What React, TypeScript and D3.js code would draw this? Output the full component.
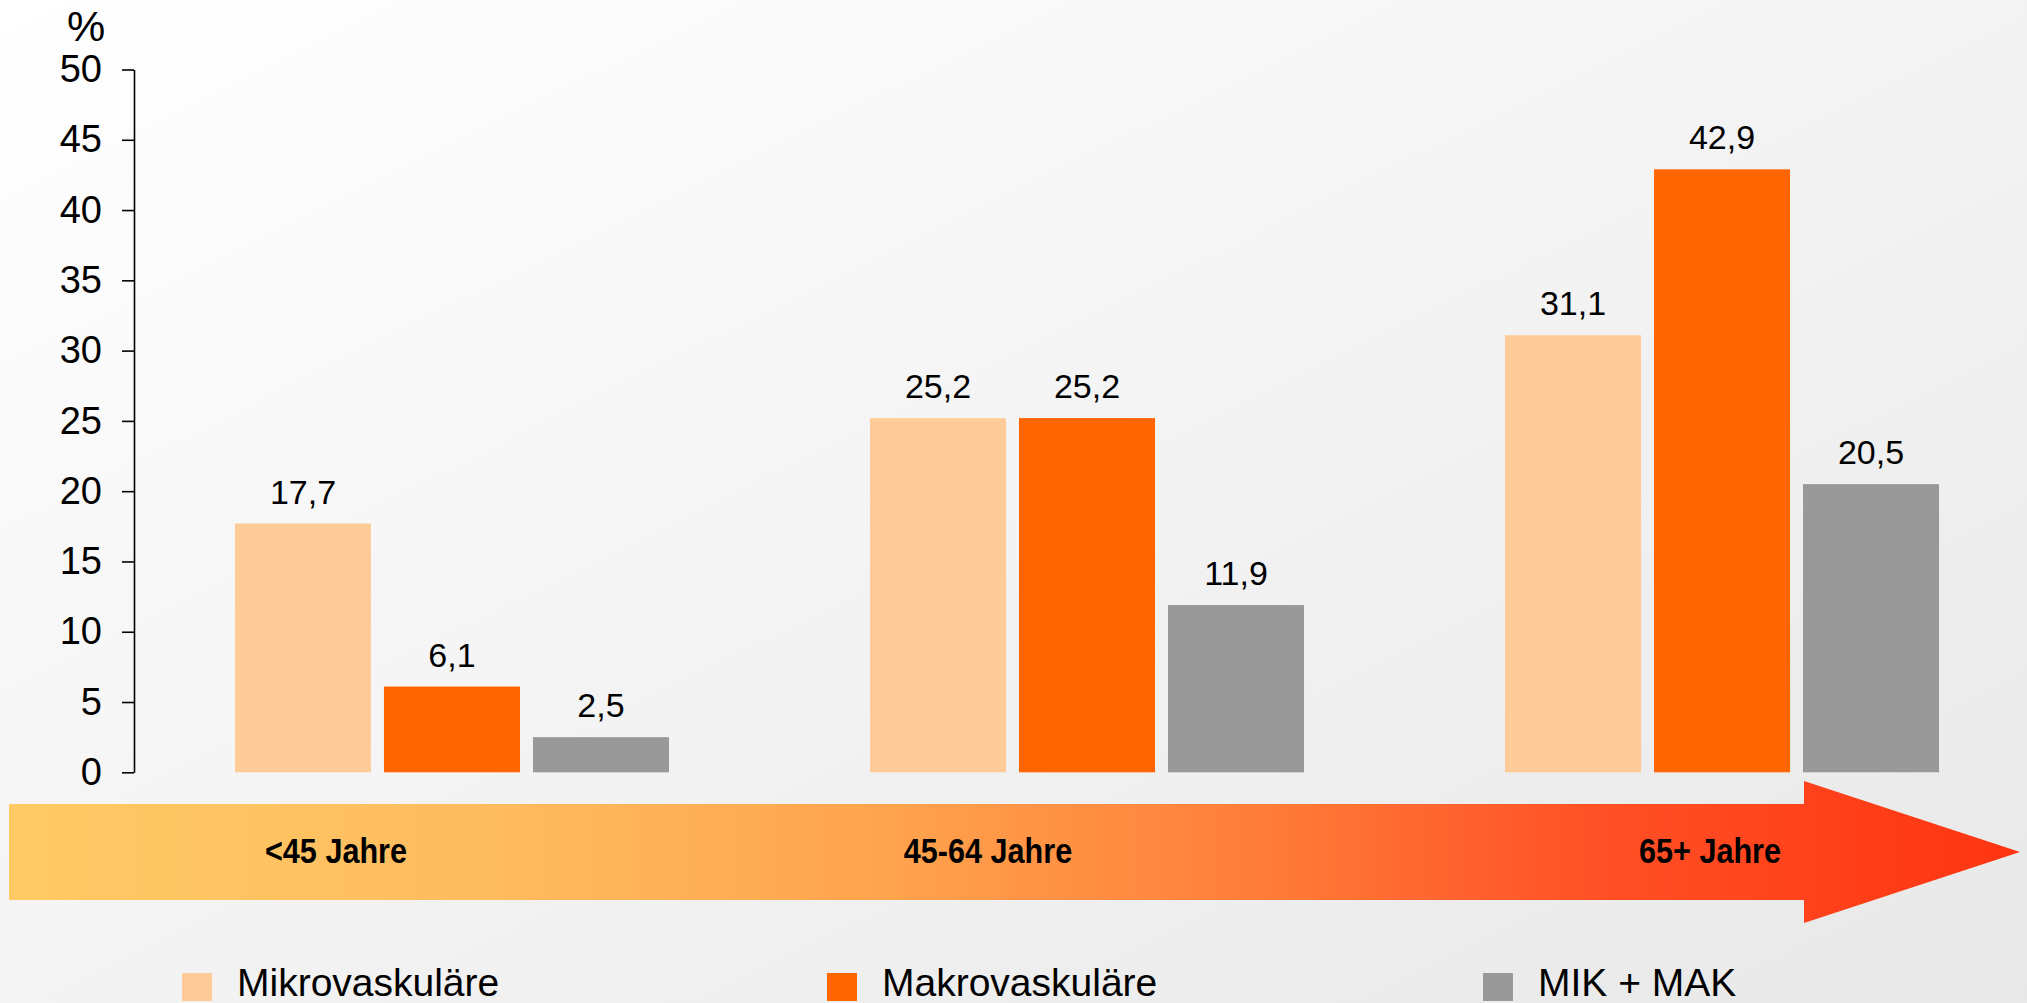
import React, { useEffect, useRef } from "react";
import * as d3 from "d3";

const ageGroups = ["<45 Jahre", "45-64 Jahre", "65+ Jahre"];
const seriesNames = ["Mikrovaskuläre", "Makrovaskuläre", "MIK + MAK"];
const seriesColors = ["#FFCC99", "#FF6600", "#999999"];
const mikroValues = [17.7, 25.2, 31.1];
const makroValues = [6.1, 25.2, 42.9];
const mikMakValues = [2.5, 11.9, 20.5];
const yTicks = [0, 5, 10, 15, 20, 25, 30, 35, 40, 45, 50];

const W = 2027;
const H = 1003;
const FONT = "'Liberation Sans', Arial, Helvetica, sans-serif";

// layout bits (not data)
const axisX = 134;
const arrowLabelX = [336, 988, 1710];
const legendX = [182, 827, 1483];

const App: React.FC = () => {
  const axisRef = useRef<SVGGElement | null>(null);

  const y = d3.scaleLinear().domain([0, 50]).range([772.3, 69.5]);
  const x0 = d3.scaleBand<string>()
    .domain(ageGroups)
    .range([axisX, 2040])
    .paddingInner(0.3165)
    .paddingOuter(0.159);
  const x1 = d3.scaleBand<string>()
    .domain(seriesNames)
    .range([0, x0.bandwidth()])
    .paddingInner(0.087)
    .paddingOuter(0);

  const seriesValues = [mikroValues, makroValues, mikMakValues];
  const fmt = (v: number) => v.toFixed(1).replace(".", ",");

  useEffect(() => {
    if (!axisRef.current) return;
    const g = d3.select(axisRef.current);
    g.selectAll("*").remove();
    g.call(d3.axisLeft(y).tickValues(yTicks).tickSize(12).tickSizeOuter(0).tickPadding(20));
    g.select(".domain").attr("stroke", "#000").attr("stroke-width", 1.6);
    g.selectAll(".tick line").attr("stroke", "#000").attr("stroke-width", 1.6);
    g.selectAll(".tick text")
      .attr("fill", "#000")
      .style("font-family", FONT)
      .style("font-size", "38px");
  }, []);

  return (
    <svg
      width={W}
      height={H}
      style={{ position: "absolute", left: 0, top: 0, display: "block" }}
    >
      <defs>
        <linearGradient id="bg" x1="0" y1="0" x2="1" y2="1">
          <stop offset="0%" stopColor="#FFFFFF" />
          <stop offset="100%" stopColor="#E8E8E8" />
        </linearGradient>
        <linearGradient id="arrowGrad" gradientUnits="userSpaceOnUse" x1={9} y1={0} x2={2020} y2={0}>
          <stop offset="0" stopColor="#FFCA66" />
          <stop offset="0.24" stopColor="#FEBC5E" />
          <stop offset="0.44" stopColor="#FFA34D" />
          <stop offset="0.62" stopColor="#FF7D39" />
          <stop offset="0.79" stopColor="#FF5026" />
          <stop offset="1" stopColor="#FF3410" />
        </linearGradient>
      </defs>
      <rect x={0} y={0} width={W} height={H} fill="url(#bg)" />

      {/* % label */}
      <text x={86} y={41} textAnchor="middle" fontFamily={FONT} fontSize={43} fill="#000">%</text>

      <g ref={axisRef} transform={`translate(${axisX},0)`} />

      {/* bars */}
      {ageGroups.map((grp, gi) => (
        <g key={grp} transform={`translate(${x0(grp)},0)`}>
          {seriesNames.map((s, si) => {
            const v = seriesValues[si][gi];
            const bx = x1(s)!;
            return (
              <g key={s}>
                <rect x={bx} y={y(v)} width={x1.bandwidth()} height={y(0) - y(v)} fill={seriesColors[si]} />
                <text
                  x={bx + x1.bandwidth() / 2}
                  y={y(v) - 20}
                  textAnchor="middle"
                  fontFamily={FONT}
                  fontSize={34}
                  fill="#000"
                >
                  {fmt(v)}
                </text>
              </g>
            );
          })}
        </g>
      ))}

      {/* age arrow */}
      <path d="M9,804 L1804,804 L1804,781 L2020,852 L1804,923 L1804,900 L9,900 Z" fill="url(#arrowGrad)" />
      {ageGroups.map((grp, i) => (
        <g key={grp} transform={`translate(${arrowLabelX[i]},863) scale(0.85,1)`}>
          <text x={0} y={0} textAnchor="middle" fontFamily={FONT} fontWeight="bold" fontSize={36} fill="#000">
            {grp}
          </text>
        </g>
      ))}

      {/* legend */}
      {seriesNames.map((s, i) => (
        <g key={s}>
          <rect x={legendX[i]} y={973} width={30} height={28} fill={seriesColors[i]} />
          <text x={legendX[i] + 55} y={996} fontFamily={FONT} fontSize={39} fill="#000">{s}</text>
        </g>
      ))}
    </svg>
  );
};

export default App;
